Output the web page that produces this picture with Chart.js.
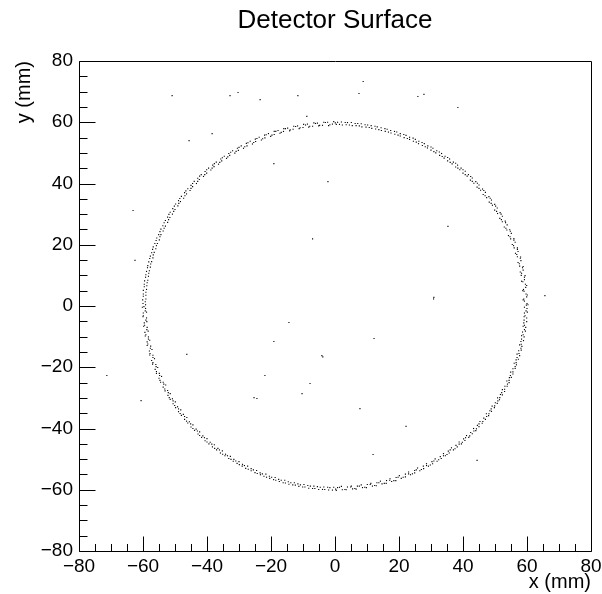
<!DOCTYPE html>
<html>
<head>
  <title>Detector Surface</title>
  <script src="https://cdn.jsdelivr.net/npm/chart.js"></script>
  <style>
    body { margin: 0; background: #fff; }
  </style>
</head>
<body>
<canvas id="myChart" width="602" height="594"></canvas>

<script>
// hits on the detector ring, [x, y] in mm
var ringHits = [
  [59.8,0.3],[59.2,1.6],[59.9,3.0],[59.1,4.8],[59.6,6.1],[58.7,7.9],[59.2,9.4],[58.3,10.7],[58.6,12.5],[57.6,13.8],
  [57.9,15.6],[56.8,16.8],[57.0,18.5],[55.8,19.7],[55.9,21.5],[54.7,22.6],[54.8,24.4],[53.4,25.4],[53.3,27.2],[52.0,28.2],
  [51.9,30.0],[50.5,30.9],[50.2,32.6],[48.8,33.5],[48.5,35.2],[46.9,36.0],[46.5,37.7],[45.0,38.4],[44.5,40.1],[42.9,40.7],
  [42.4,42.3],[40.7,42.9],[40.0,44.5],[38.4,45.0],[37.7,46.6],[36.0,46.9],[35.2,48.5],[33.5,48.8],[32.6,50.3],[30.9,50.4],
  [30.0,51.9],[28.2,52.0],[27.2,53.4],[25.4,53.5],[24.4,54.8],[22.6,54.7],[21.5,56.0],[19.7,55.8],[18.6,57.0],[16.7,56.8],
  [15.6,57.9],[13.7,57.6],[12.5,58.7],[10.7,58.3],[9.4,59.2],[7.6,58.8],[6.3,59.6],[4.5,59.1],[3.2,59.9],[1.4,59.3],
  [0.1,59.8],[-1.6,59.2],[-3.0,59.9],[-4.8,59.0],[-6.1,59.6],[-7.9,58.7],[-9.2,59.1],[-10.9,58.2],[-12.3,58.6],[-14.0,57.5],
  [-15.5,57.9],[-16.8,56.7],[-18.5,57.0],[-19.7,55.8],[-21.5,55.9],[-22.6,54.6],[-24.4,54.7],[-25.4,53.4],[-27.2,53.3],[-28.2,52.0],
  [-30.0,51.8],[-30.9,50.5],[-32.6,50.2],[-33.5,48.7],[-35.2,48.4],[-36.0,46.9],[-37.7,46.5],[-38.4,45.0],[-40.1,44.5],[-40.7,42.9],
  [-42.3,42.4],[-42.9,40.7],[-44.5,40.0],[-45.0,38.4],[-46.6,37.6],[-46.9,36.0],[-48.5,35.1],[-48.8,33.5],[-50.2,32.6],[-50.4,30.9],
  [-51.9,29.9],[-52.0,28.2],[-53.4,27.2],[-53.4,25.4],[-54.7,24.3],[-54.7,22.6],[-55.9,21.4],[-55.8,19.7],[-57.0,18.5],[-56.8,16.7],
  [-57.9,15.5],[-57.6,13.7],[-58.6,12.5],[-58.2,10.7],[-59.2,9.4],[-58.7,7.6],[-59.6,6.3],[-59.1,4.5],[-59.9,3.2],[-59.3,1.4],
  [-59.7,-0.2],[-59.3,-1.6],[-59.9,-3.2],[-59.1,-4.6],[-59.5,-6.3],[-58.8,-7.7],[-59.1,-9.4],[-58.3,-10.8],[-58.5,-12.4],[-57.7,-13.8],
  [-57.8,-15.5],[-56.9,-16.8],[-56.9,-18.5],[-55.9,-19.8],[-55.8,-21.4],[-54.8,-22.7],[-54.7,-24.3],[-53.5,-25.5],[-53.2,-27.1],[-52.1,-28.3],
  [-51.8,-29.9],[-50.6,-31.0],[-50.1,-32.5],[-48.9,-33.6],[-48.4,-35.1],[-47.0,-36.1],[-46.4,-37.6],[-45.1,-38.5],[-44.4,-40.0],[-43.0,-40.8],
  [-42.3,-42.3],[-40.8,-43.0],[-40.0,-44.4],[-38.5,-45.1],[-37.6,-46.5],[-36.1,-47.0],[-35.1,-48.4],[-33.6,-48.9],[-32.5,-50.1],[-31.0,-50.6],
  [-29.9,-51.8],[-28.3,-52.1],[-27.1,-53.3],[-25.5,-53.5],[-24.3,-54.7],[-22.7,-54.8],[-21.4,-55.9],[-19.8,-55.9],[-18.5,-56.9],[-16.8,-56.9],
  [-15.5,-57.8],[-13.8,-57.7],[-12.4,-58.5],[-10.8,-58.4],[-9.4,-59.1],[-7.7,-58.8],[-6.3,-59.6],[-4.6,-59.2],[-3.2,-59.9],[-1.6,-59.3],
  [0.2,-59.8],[1.4,-59.2],[3.1,-59.9],[4.9,-59.1],[6.2,-59.6],[7.6,-58.8],[9.3,-59.2],[11.0,-58.3],[12.4,-58.6],[13.7,-57.7],
  [15.4,-57.9],[17.1,-56.9],[18.4,-57.0],[19.7,-55.9],[21.3,-55.9],[23.0,-54.8],[24.2,-54.8],[25.4,-53.5],[27.0,-53.4],[28.6,-52.1],
  [29.8,-51.9],[30.9,-50.6],[32.4,-50.2],[33.9,-48.9],[35.0,-48.5],[36.0,-47.0],[37.5,-46.6],[38.8,-45.1],[39.8,-44.5],[40.8,-43.0],
  [42.1,-42.4],[43.4,-40.8],[44.2,-40.1],[45.0,-38.5],[46.2,-37.7],[47.4,-36.1],[48.1,-35.2],[48.8,-33.6],[49.9,-32.6],[50.9,-31.0],
  [51.5,-29.9],[52.1,-28.3],[53.0,-27.2],[53.9,-25.5],[54.4,-24.3],[54.8,-22.7],[55.6,-21.5],[56.3,-19.8],[56.6,-18.5],[56.9,-16.8],
  [57.5,-15.5],[58.1,-13.8],[58.2,-12.5],[58.3,-10.8],[58.8,-9.4],[59.2,-7.7],[59.2,-6.3],[59.1,-4.6],[59.4,-3.2],[59.7,-1.6],
  [60.0,0.8],[59.0,2.3],[59.7,3.9],[58.9,5.4],[59.5,7.1],[59.2,8.6],[58.2,10.0],[58.8,11.7],[57.7,13.0],[58.1,14.8],
  [57.0,16.1],[57.2,17.8],[56.0,19.0],[56.3,20.8],[54.9,21.9],[55.1,23.7],[53.7,24.8],[53.8,26.5],[52.3,27.5],[52.3,29.3],
  [50.8,30.2],[50.7,32.0],[49.2,32.9],[48.9,34.6],[47.4,35.4],[47.0,37.1],[45.5,37.8],[45.0,39.5],[43.4,40.1],[42.9,41.8],
  [41.3,42.4],[40.7,44.0],[39.0,44.5],[38.3,46.0],[36.6,46.4],[35.8,48.0],[34.1,48.3],[33.3,49.8],[31.5,50.0],[30.6,51.5],
  [28.9,51.6],[27.9,53.0],[26.1,53.0],[25.1,54.4],[23.3,54.4],[22.2,55.7],[20.4,55.5],[19.3,56.8],[17.5,56.5],[16.3,57.7],
  [14.5,57.3],[13.2,58.5],[11.5,58.0],[10.2,59.1],[8.4,58.5],[7.1,59.6],[5.4,58.9],[3.9,59.9],[2.3,59.1],[0.8,60.0],
  [-0.8,59.4],[-2.3,60.0],[-3.9,59.0],[-5.5,59.7],[-7.0,58.7],[-8.6,59.4],[-10.0,58.3],[-11.7,58.8],[-13.1,57.7],[-14.8,58.1],
  [-16.1,57.0],[-17.8,57.3],[-19.0,56.0],[-20.8,56.3],[-21.9,54.9],[-23.7,55.1],[-24.8,53.7],[-26.5,53.8],[-27.5,52.3],[-29.3,52.3],
  [-30.2,50.8],[-32.0,50.7],[-32.9,49.2],[-34.6,48.9],[-35.4,47.4],[-37.1,47.0],[-37.8,45.5],[-39.5,45.0],[-40.1,43.4],[-41.8,42.9],
  [-42.4,41.3],[-44.0,40.7],[-44.5,39.0],[-46.0,38.3],[-46.4,36.6],[-48.0,35.8],[-48.3,34.1],[-49.8,33.3],[-50.0,31.5],[-51.5,30.6],
  [-51.6,28.9],[-53.0,27.9],[-53.0,26.1],[-54.4,25.1],[-54.4,23.3],[-55.7,22.2],[-55.5,20.4],[-56.8,19.3],[-56.5,17.5],[-57.7,16.3],
  [-57.3,14.5],[-58.5,13.2],[-58.0,11.5],[-59.1,10.2],[-58.5,8.4],[-59.6,7.1],[-58.9,5.4],[-59.9,3.9],[-59.1,2.3],[-60.0,0.8],
  [-59.2,-0.8],[-59.9,-2.3],[-58.9,-3.9],[-59.6,-5.5],[-58.7,-7.0],[-59.4,-8.6],[-58.3,-10.1],[-58.7,-11.7],[-57.6,-13.1],[-58.0,-14.7],
  [-56.9,-16.1],[-57.3,-17.8],[-56.0,-19.1],[-56.2,-20.7],[-54.9,-22.0],[-55.0,-23.6],[-53.7,-24.9],[-53.7,-26.5],[-52.3,-27.6],[-52.2,-29.2],
  [-50.8,-30.3],[-50.6,-31.9],[-49.2,-32.9],[-48.9,-34.5],[-47.4,-35.4],[-47.0,-37.0],[-45.5,-37.8],[-45.0,-39.5],[-43.4,-40.2],[-42.8,-41.8],
  [-41.3,-42.4],[-40.6,-44.0],[-39.0,-44.5],[-38.3,-46.0],[-36.6,-46.5],[-35.8,-48.0],[-34.2,-48.4],[-33.2,-49.8],[-31.6,-50.1],[-30.6,-51.4],
  [-28.9,-51.7],[-27.9,-53.0],[-26.2,-53.1],[-25.0,-54.4],[-23.4,-54.5],[-22.2,-55.6],[-20.5,-55.6],[-19.2,-56.7],[-17.6,-56.6],[-16.2,-57.7],
  [-14.6,-57.4],[-13.2,-58.4],[-11.6,-58.1],[-10.1,-59.1],[-8.5,-58.6],[-7.0,-59.6],[-5.5,-59.0],[-3.9,-59.9],[-2.3,-59.2],[-0.8,-60.1],
  [0.8,-59.3],[2.3,-60.0],[3.9,-59.1],[5.5,-59.7],[7.0,-58.8],[8.6,-59.3],[10.1,-58.3],[11.7,-58.8],[13.1,-57.7],[14.7,-58.1],
  [16.1,-57.0],[17.7,-57.3],[19.1,-56.0],[20.7,-56.3],[22.0,-54.9],[23.6,-55.1],[24.9,-53.7],[26.5,-53.8],[27.6,-52.3],[29.2,-52.3],
  [30.3,-50.8],[31.9,-50.7],[32.9,-49.2],[34.5,-48.9],[35.4,-47.4],[37.0,-47.0],[37.8,-45.5],[39.5,-45.0],[40.2,-43.4],[41.8,-42.9],
  [42.4,-41.3],[44.0,-40.7],[44.5,-39.0],[46.0,-38.3],[46.5,-36.6],[48.0,-35.8],[48.4,-34.2],[49.8,-33.2],[50.1,-31.6],[51.4,-30.6],
  [51.7,-28.9],[53.0,-27.9],[53.1,-26.2],[54.4,-25.0],[54.5,-23.4],[55.6,-22.2],[55.6,-20.5],[56.7,-19.2],[56.6,-17.6],[57.7,-16.2],
  [57.4,-14.6],[58.4,-13.2],[58.1,-11.6],[59.1,-10.1],[58.6,-8.5],[59.6,-7.0],[59.0,-5.5],[59.9,-3.9],[59.2,-2.3],[60.0,-0.8],
  [60.3,0.4],[58.8,2.0],[60.1,3.6],[58.7,5.0],[59.9,6.7],[58.3,8.1],[59.4,9.9],[57.9,11.1],[58.8,12.9],[57.2,14.2],
  [58.0,16.0],[56.4,17.2],[57.0,19.0],[55.4,20.1],[55.9,22.0],[54.2,23.0],[54.6,24.9],[52.9,25.8],[53.2,27.7],[51.5,28.6],
  [51.6,30.5],[49.9,31.3],[49.9,33.2],[48.2,33.9],[48.1,35.7],[46.3,36.4],[46.1,38.2],[44.4,38.8],[44.0,40.6],[42.3,41.1],
  [41.7,42.9],[40.0,43.4],[39.4,45.0],[37.7,45.4],[37.0,47.0],[35.2,47.4],[34.4,48.9],[32.7,49.2],[31.8,50.7],[30.0,50.9],
  [29.0,52.3],[27.3,52.4],[26.2,53.8],[24.5,53.8],[23.3,55.1],[21.6,55.0],[20.4,56.3],[18.7,56.1],[17.4,57.3],[15.7,57.0],
  [14.4,58.2],[12.7,57.8],[11.3,58.9],[9.7,58.4],[8.2,59.5],[6.6,58.9],[5.1,59.9],[3.5,59.2],[2.0,60.1],[0.4,59.3],
  [-0.4,60.2],[-2.0,58.9],[-3.5,60.0],[-5.1,58.8],[-6.6,59.8],[-8.2,58.4],[-9.8,59.3],[-11.2,57.9],[-12.9,58.7],[-14.2,57.2],
  [-16.0,57.9],[-17.2,56.4],[-19.0,57.0],[-20.1,55.4],[-22.0,55.8],[-23.0,54.2],[-24.9,54.5],[-25.8,52.9],[-27.7,53.1],[-28.6,51.5],
  [-30.5,51.5],[-31.3,49.9],[-33.2,49.8],[-33.9,48.2],[-35.7,48.0],[-36.4,46.3],[-38.2,46.0],[-38.8,44.4],[-40.6,43.9],[-41.1,42.3],
  [-42.9,41.7],[-43.3,40.0],[-45.0,39.4],[-45.3,37.7],[-47.0,37.0],[-47.3,35.2],[-48.9,34.4],[-49.1,32.7],[-50.7,31.8],[-50.8,30.0],
  [-52.3,29.0],[-52.3,27.3],[-53.8,26.2],[-53.7,24.5],[-55.1,23.3],[-54.9,21.6],[-56.3,20.4],[-56.0,18.7],[-57.3,17.4],[-56.9,15.7],
  [-58.2,14.4],[-57.7,12.7],[-58.9,11.3],[-58.3,9.7],[-59.5,8.2],[-58.8,6.6],[-59.9,5.1],[-59.1,3.5],[-60.1,2.0],[-59.2,0.4],
  [-60.2,-0.4],[-58.9,-2.0],[-60.0,-3.5],[-58.8,-5.1],[-59.8,-6.6],[-58.4,-8.2],[-59.3,-9.8],[-57.9,-11.2],[-58.7,-12.9],[-57.2,-14.2],
  [-57.9,-16.0],[-56.4,-17.2],[-57.0,-19.0],[-55.4,-20.1],[-55.8,-22.0],[-54.2,-23.0],[-54.5,-24.9],[-52.9,-25.8],[-53.1,-27.7],[-51.5,-28.6],
  [-51.5,-30.5],[-49.9,-31.3],[-49.8,-33.2],[-48.2,-33.9],[-48.0,-35.7],[-46.3,-36.4],[-46.0,-38.2],[-44.4,-38.8],[-43.9,-40.6],[-42.3,-41.1],
  [-41.7,-42.9],[-40.0,-43.3],[-39.4,-45.0],[-37.7,-45.3],[-37.0,-47.0],[-35.2,-47.3],[-34.4,-48.9],[-32.7,-49.1],[-31.8,-50.7],[-30.0,-50.8],
  [-29.0,-52.3],[-27.3,-52.3],[-26.2,-53.8],[-24.5,-53.7],[-23.3,-55.1],[-21.6,-54.9],[-20.4,-56.3],[-18.7,-56.0],[-17.4,-57.3],[-15.7,-56.9],
  [-14.4,-58.2],[-12.7,-57.7],[-11.3,-58.9],[-9.7,-58.3],[-8.2,-59.5],[-6.6,-58.8],[-5.1,-59.9],[-3.5,-59.1],[-2.0,-60.1],[-0.4,-59.2],
  [0.4,-60.2],[2.0,-58.9],[3.5,-60.0],[5.1,-58.8],[6.6,-59.8],[8.2,-58.4],[9.8,-59.3],[11.2,-57.9],[12.9,-58.7],[14.2,-57.2],
  [16.0,-57.9],[17.2,-56.4],[19.0,-57.0],[20.1,-55.4],[22.0,-55.8],[23.0,-54.2],[24.9,-54.5],[25.8,-52.9],[27.7,-53.1],[28.6,-51.5],
  [30.5,-51.5],[31.3,-49.9],[33.2,-49.8],[33.9,-48.2],[35.7,-48.0],[36.4,-46.3],[38.2,-46.0],[38.8,-44.4],[40.6,-43.9],[41.1,-42.3],
  [42.9,-41.7],[43.3,-40.0],[45.0,-39.4],[45.3,-37.7],[47.0,-37.0],[47.3,-35.2],[48.9,-34.4],[49.1,-32.7],[50.7,-31.8],[50.8,-30.0],
  [52.3,-29.0],[52.3,-27.3],[53.8,-26.2],[53.7,-24.5],[55.1,-23.3],[54.9,-21.6],[56.3,-20.4],[56.0,-18.7],[57.3,-17.4],[56.9,-15.7],
  [58.2,-14.4],[57.7,-12.7],[58.9,-11.3],[58.3,-9.7],[59.5,-8.2],[58.8,-6.6],[59.9,-5.1],[59.1,-3.5],[60.1,-2.0],[59.2,-0.4]
];

// stray hits scattered over the surface
var strayHits = [
  [-50.9,68.7],[-45.6,54.0],[-63.1,31.2],[8.8,73.3],[-32.8,68.7],[-30.3,69.7],[-23.4,67.4],[-11.6,68.7],
  [7.5,69.4],[-8.8,61.9],[-38.4,56.3],[-19.1,46.5],[-2.2,40.6],[-7.0,21.9],[25.9,68.4],[27.8,69.1],
  [38.4,64.8],[35.3,26.0],[-62.5,14.9],[-71.3,-22.7],[-60.6,-30.9],[-46.3,-15.8],[-14.4,-5.4],[-19.1,-11.6],
  [-4.1,-16.2],[-3.8,-16.6],[12.2,-10.6],[-21.9,-22.7],[-7.8,-25.3],[-10.3,-28.6],[-25.3,-29.9],[-24.4,-30.2],
  [7.8,-33.5],[30.9,2.8],[30.8,2.3],[65.6,3.4],[22.2,-39.3],[11.9,-48.5],[44.4,-50.4]
];

// axis range and tick spacing
var axisMin = -80;
var axisMax = 80;
var majorStep = 20;
var minorStep = 5;

function toXY(list) {
  return list.map(function(p) { return { x: p[0], y: p[1] }; });
}

function minusSign(v) {
  return v < 0 ? '\u2212' + Math.abs(v) : String(v);
}

// ROOT style frame with ticks drawn on the inside
var frameTicks = {
  id: 'frameTicks',
  beforeDatasetsDraw: function(chart) {
    var ctx = chart.ctx;
    var a = chart.chartArea;
    var xs = chart.scales.x;
    var ys = chart.scales.y;
    var L = Math.round(a.left) + 0.5, R = Math.round(a.right) + 0.5;
    var T = Math.round(a.top) + 0.5, B = Math.round(a.bottom) + 0.5;
    ctx.save();
    ctx.strokeStyle = '#000';
    ctx.lineWidth = 1;
    ctx.beginPath();
    ctx.moveTo(L, T); ctx.lineTo(R, T); ctx.lineTo(R, B); ctx.lineTo(L, B); ctx.closePath();
    for (var v = axisMin; v <= axisMax; v += minorStep) {
      var major = v % majorStep === 0;
      var px = Math.round(xs.getPixelForValue(v)) + 0.5;
      ctx.moveTo(px, B);
      ctx.lineTo(px, B - (major ? 15 : 7.5));
      var py = Math.round(ys.getPixelForValue(v)) + 0.5;
      ctx.moveTo(L, py);
      ctx.lineTo(L + (major ? 16 : 8), py);
    }
    ctx.stroke();
    ctx.restore();
  }
};

var tickFont = { family: 'Liberation Sans', size: 19 };
var titleFont = { family: 'Liberation Sans', size: 20 };

var ctx = document.getElementById('myChart').getContext('2d');
var chart = new Chart(ctx, {
  type: 'scatter',
  data: {
    datasets: [
      {
        label: 'ring',
        data: toXY(ringHits),
        pointStyle: 'rect',
        pointRadius: 0.8,
        borderWidth: 0,
        backgroundColor: '#000'
      },
      {
        label: 'stray',
        data: toXY(strayHits),
        pointStyle: 'rect',
        pointRadius: 0.8,
        borderWidth: 0,
        backgroundColor: '#000'
      }
    ]
  },
  options: {
    responsive: false,
    animation: false,
    devicePixelRatio: 1,
    layout: { padding: { left: 0, right: 11, top: 0, bottom: 0 } },
    plugins: {
      legend: { display: false },
      tooltip: { enabled: false },
      title: {
        display: true,
        fullSize: false,
        text: 'Detector Surface',
        color: '#000',
        font: { family: 'Liberation Sans', size: 26, weight: 'normal' },
        padding: { top: 5, bottom: 24.8 }
      }
    },
    scales: {
      x: {
        type: 'linear',
        min: axisMin,
        max: axisMax,
        grid: { display: false, drawTicks: false },
        border: { display: false },
        ticks: {
          stepSize: majorStep,
          autoSkip: false,
          maxRotation: 0,
          padding: 4,
          color: '#000',
          font: tickFont,
          callback: minusSign
        },
        title: {
          display: true,
          text: 'x (mm)',
          align: 'end',
          color: '#000',
          font: titleFont,
          padding: { top: 0, bottom: 0 }
        },
        afterFit: function(s) {
          s.height = 43;
          s.paddingLeft = 0; s.paddingRight = 0;
        }
      },
      y: {
        type: 'linear',
        min: axisMin,
        max: axisMax,
        grid: { display: false, drawTicks: false },
        border: { display: false },
        ticks: {
          stepSize: majorStep,
          autoSkip: false,
          padding: 6,
          color: '#000',
          font: tickFont,
          callback: minusSign
        },
        title: {
          display: true,
          text: 'y (mm)',
          align: 'end',
          color: '#000',
          font: titleFont,
          padding: { top: 12, bottom: 0 }
        },
        afterFit: function(s) {
          s.width = 79;
          s.paddingTop = 0; s.paddingBottom = 0;
        }
      }
    }
  },
  plugins: [frameTicks]
});
</script>
</body>
</html>
